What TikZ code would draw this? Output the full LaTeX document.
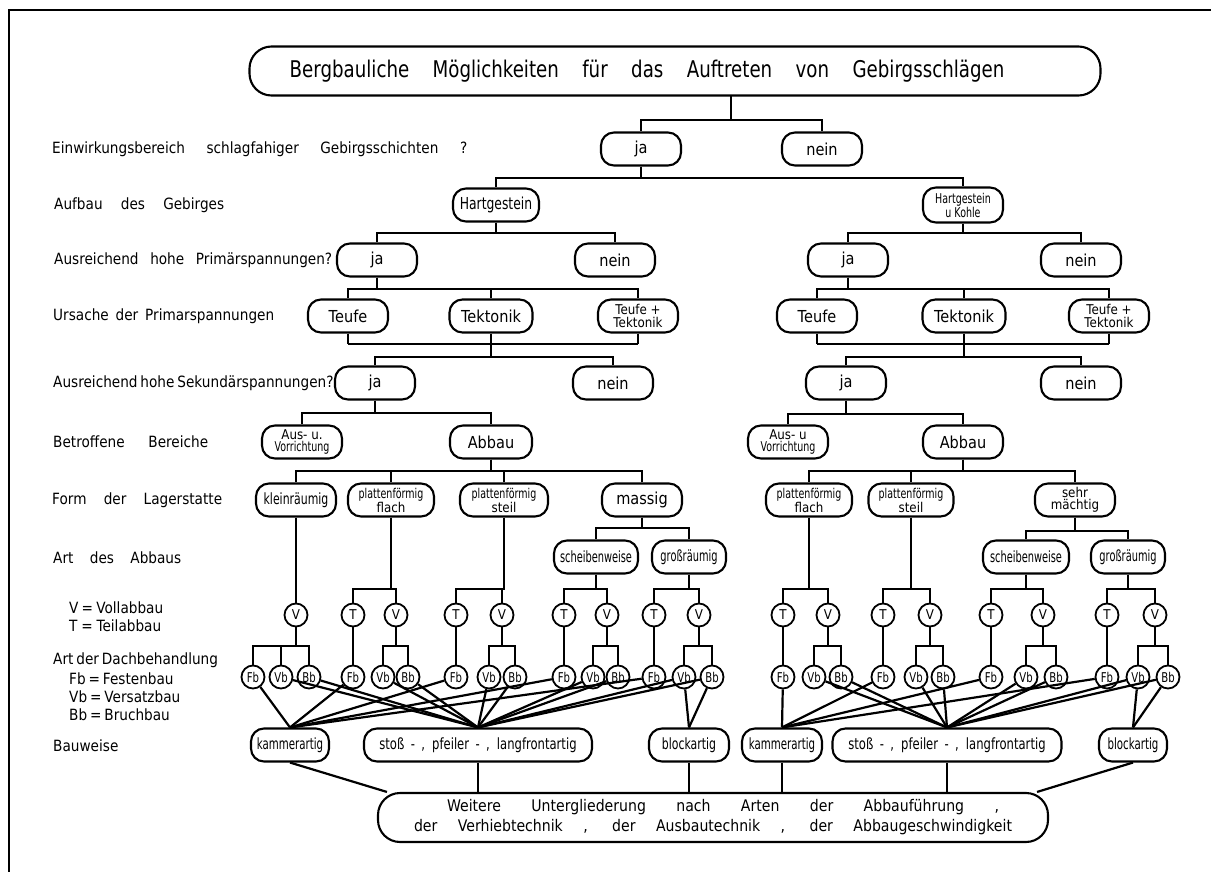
\documentclass[tikz,border=0pt]{standalone}
\usepackage{fontspec}
\setmainfont{DejaVu Sans}[FakeStretch=0.88]
\usepackage{graphicx}
\newcommand\sqz[2][0.8]{\scalebox{#1}[1]{#2}}
\newcommand\fork[3]{\foreach \ch in {#3}{\draw[conn] (#1) -- (#1 |- 0,#2) -| (\ch.north);}}
\tikzset{
 conn/.style={line width=2.2pt},
 bx/.style={draw, line width=2.1pt, rounded corners=13pt, minimum height=33pt, minimum width=80pt, inner sep=1pt, align=center, font=\fontsize{16.5}{16.5}\selectfont},
 smbx/.style={bx, font=\fontsize{13.5}{12.5}\selectfont},
 mdbx/.style={bx, font=\fontsize{15.5}{15.5}\selectfont},
 cir/.style={draw, circle, line width=1.8pt, minimum size=23pt, inner sep=0pt, font=\fontsize{13.5}{13.5}\selectfont},
 lab/.style={anchor=west, inner sep=0pt, font=\fontsize{15.5}{18}\selectfont},
}
\begin{document}
\begin{tikzpicture}[x=1pt,y=-1pt]
\useasboundingbox (0,0) rectangle (1211,872);
% frame
\draw[line width=2.5pt] (9,872) -- (9,10) -- (1211,10);
% title
\node[bx, minimum width=851pt, minimum height=49pt, rounded corners=22pt, font=\fontsize{23}{23}\selectfont] (title) at (675,71)
 {\sqz[0.9]{\makebox[794pt][s]{Bergbauliche Möglichkeiten für das Auftreten von Gebirgsschlägen}}\hspace*{56pt}};
% labels
\node[lab] (l1) at (52,149) {\makebox[415pt][s]{Einwirkungsbereich schlagfahiger Gebirgsschichten ?}};
\node[lab] (l2) at (54,205) {\makebox[170pt][s]{Aufbau des Gebirges}};
\node[lab] (l3) at (54,260) {\makebox[278pt][s]{Ausreichend hohe Primärspannungen?}};
\node[lab] (l4) at (53,316) {\makebox[221pt][s]{Ursache der Primarspannungen}};
\node[lab] (l5) at (53,383) {\makebox[276pt][s]{Ausreichend hohe Sekundärspannungen?}};
\node[lab] (l6) at (53,442) {\makebox[155pt][s]{Betroffene Bereiche}};
\node[lab] (l7) at (52,500) {\makebox[170pt][s]{Form der Lagerstatte}};
\node[lab] (l8) at (53,558) {\makebox[128pt][s]{Art des Abbaus}};
\node[lab] (l9) at (69,608) {\makebox[94pt][s]{V = Vollabbau}};
\node[lab] (l10) at (69,626) {\makebox[92pt][s]{T = Teilabbau}};
\node[lab] (l11) at (53,660) {\makebox[159pt][s]{Art der Dachbehandlung}};
\node[lab] (l12) at (69,679) {\makebox[102pt][s]{Fb = Festenbau}};
\node[lab] (l13) at (69,697) {\makebox[109pt][s]{Vb = Versatzbau}};
\node[lab] (l14) at (69,715) {\makebox[91pt][s]{Bb = Bruchbau}};
\node[lab] (l15) at (53,746) {Bauweise};
% level 1
\node[bx] (ja1) at (641,149) {ja};
\node[bx] (nein1) at (822,149) {nein};
\coordinate (td) at (731,95.5);
\fork{td}{120}{ja1,nein1}
% level 2
\node[bx, minimum width=86pt] (hartL) at (496,205) {\sqz[0.85]{Hartgestein}};
\node[smbx, minimum height=35pt] (hartR) at (963,205) {\sqz{Hartgestein}\\\sqz{u Kohle}};
\fork{ja1.south}{178}{hartL,hartR}
% level 3
\node[bx] (ja3L) at (377,260) {ja};
\node[bx] (nein3L) at (615,260) {nein};
\node[bx] (ja3R) at (848,260) {ja};
\node[bx] (nein3R) at (1081,260) {nein};
\fork{hartL.south}{233}{ja3L,nein3L}
\fork{hartR.south}{233}{ja3R,nein3R}
% level 4
\node[bx] (teufeL) at (348,316) {Teufe};
\node[bx, minimum width=83pt] (tekL) at (491,316) {Tektonik};
\node[smbx] (ttL) at (638,316) {Teufe +\\Tektonik};
\node[bx] (teufeR) at (817,316) {Teufe};
\node[bx, minimum width=83pt] (tekR) at (964,316) {Tektonik};
\node[smbx] (ttR) at (1109,316) {Teufe +\\Tektonik};
\fork{ja3L.south}{289}{teufeL,tekL,ttL}
\fork{ja3R.south}{289}{teufeR,tekR,ttR}
\foreach \n in {teufeL,tekL,ttL,teufeR,tekR,ttR}{\draw[conn] (\n.south) -- (\n.south |- 0,344);}
\draw[conn] (teufeL.south |- 0,344) -- (ttL.south |- 0,344);
\draw[conn] (teufeR.south |- 0,344) -- (ttR.south |- 0,344);
\coordinate (mL) at (tekL.south |- 0,344);
\coordinate (mR) at (tekR.south |- 0,344);
% level 5
\node[bx] (ja5L) at (375,383) {ja};
\node[bx] (nein5L) at (613,383) {nein};
\node[bx] (ja5R) at (846,383) {ja};
\node[bx] (nein5R) at (1081,383) {nein};
\fork{mL}{357}{ja5L,nein5L}
\fork{mR}{357}{ja5R,nein5R}
% level 6
\node[smbx] (ausL) at (302,442) {Aus- u.\\\sqz{Vorrichtung}};
\node[bx, minimum width=82pt] (abbauL) at (491,442) {Abbau};
\node[smbx] (ausR) at (788,442) {Aus- u\\\sqz{Vorrichtung}};
\node[bx] (abbauR) at (963,442) {Abbau};
\fork{ja5L.south}{413}{ausL,abbauL}
\fork{ja5R.south}{414}{ausR,abbauR}
% level 7
\node[mdbx] (klein) at (296,500) {\sqz[0.8]{kleinräumig}};
\node[smbx, minimum width=86pt] (flachL) at (391,500) {\sqz[0.8]{plattenförmig}\\flach};
\node[smbx, minimum width=88pt] (steilL) at (504,500) {\sqz[0.8]{plattenförmig}\\steil};
\node[bx] (massig) at (642,500) {massig};
\node[smbx, minimum width=86pt] (flachR) at (809,500) {\sqz[0.8]{plattenförmig}\\flach};
\node[smbx, minimum width=85pt] (steilR) at (911,500) {\sqz[0.8]{plattenförmig}\\steil};
\node[smbx] (sehr) at (1075,500) {sehr\\mächtig};
\fork{abbauL.south}{471}{klein,flachL,steilL,massig}
\fork{abbauR.south}{471}{flachR,steilR,sehr}
% level 8
\node[mdbx, minimum width=84pt] (scheibL) at (596,557) {\sqz[0.72]{scheibenweise}};
\node[mdbx, minimum width=74pt] (grossL) at (689,557) {\sqz[0.72]{großräumig}};
\node[mdbx, minimum width=86pt] (scheibR) at (1026,557) {\sqz[0.72]{scheibenweise}};
\node[mdbx, minimum width=74pt] (grossR) at (1128,557) {\sqz[0.72]{großräumig}};
\fork{massig.south}{528}{scheibL,grossL}
\fork{sehr.south}{531}{scheibR,grossR}
% level 9 : V / T
\node[cir] (V1) at (296,615) {V};
\node[cir] (T2) at (353,615) {T}; \node[cir] (V2) at (396,615) {V};
\node[cir] (T3) at (456,615) {T}; \node[cir] (V3) at (502,615) {V};
\node[cir] (T4) at (564,615) {T}; \node[cir] (V4) at (607,615) {V};
\node[cir] (T5) at (654,615) {T}; \node[cir] (V5) at (699,615) {V};
\node[cir] (T6) at (783,615) {T}; \node[cir] (V6) at (828,615) {V};
\node[cir] (T7) at (883,615) {T}; \node[cir] (V7) at (930,615) {V};
\node[cir] (T8) at (991,615) {T}; \node[cir] (V8) at (1043,615) {V};
\node[cir] (T9) at (1107,615) {T}; \node[cir] (V9) at (1155,615) {V};
\fork{klein.south}{589}{V1}
\fork{flachL.south}{589}{T2,V2}
\fork{steilL.south}{589}{T3,V3}
\fork{scheibL.south}{589}{T4,V4}
\fork{grossL.south}{589}{T5,V5}
\fork{flachR.south}{589}{T6,V6}
\fork{steilR.south}{589}{T7,V7}
\fork{scheibR.south}{589}{T8,V8}
\fork{grossR.south}{589}{T9,V9}
% level 10 : Fb / Vb / Bb
\foreach \g/\f/\v/\b in {1/253/281/309, 2/353/383/408, 3/456/489/515, 4/564/593/618, 5/654/684/712, 6/783/814/841, 7/883/916/943, 8/991/1026/1056, 9/1107/1138/1168}{
 \node[cir] (Fb\g) at (\f,677) {\sqz[0.85]{Fb}};
 \node[cir] (Vb\g) at (\v,677) {\sqz[0.85]{Vb}};
 \node[cir] (Bb\g) at (\b,677) {\sqz[0.85]{Bb}};
}
\fork{V1.south}{646}{Fb1,Vb1,Bb1}
\foreach \g in {2,...,9}{
 \draw[conn] (T\g.south) -- (Fb\g.north);
 \fork{V\g.south}{646}{Vb\g,Bb\g}
}
% level 11 : Bauweise
\node[mdbx, minimum width=78pt] (kamL) at (290,745) {\sqz[0.75]{kammerartig}};
\node[mdbx, minimum width=228pt] (stossL) at (478,745) {\sqz[0.85]{\makebox[232pt][s]{stoß - , pfeiler - , langfrontartig}}};
\node[mdbx, minimum width=80pt] (blockL) at (689,745) {\sqz[0.8]{blockartig}};
\node[mdbx, minimum width=80pt] (kamR) at (782,745) {\sqz[0.75]{kammerartig}};
\node[mdbx, minimum width=229pt] (stossR) at (947,745) {\sqz[0.85]{\makebox[232pt][s]{stoß - , pfeiler - , langfrontartig}}};
\node[mdbx, minimum width=68pt] (blockR) at (1133,745) {\sqz[0.75]{blockartig}};
\foreach \g in {1,...,5}{\draw[conn] (Fb\g) -- (kamL.north); \draw[conn] (Vb\g) -- (stossL.north); \draw[conn] (Bb\g) -- (stossL.north);}
\foreach \g in {6,...,9}{\draw[conn] (Fb\g) -- (kamR.north); \draw[conn] (Vb\g) -- (stossR.north); \draw[conn] (Bb\g) -- (stossR.north);}
\draw[conn] (Vb5) -- (blockL.north); \draw[conn] (Bb5) -- (blockL.north);
\draw[conn] (Vb9) -- (blockR.north); \draw[conn] (Bb9) -- (blockR.north);
% bottom box
\node[bx, minimum width=670pt, minimum height=49pt, rounded corners=22pt, font=\fontsize{16}{20}\selectfont] (bot) at (713,817.5)
 {\hspace*{20pt}\makebox[552pt][s]{Weitere Untergliederung nach Arten der Abbauführung ,}\\
  \makebox[598pt][s]{der Verhiebtechnik , der Ausbautechnik , der Abbaugeschwindigkeit}};
\draw[conn] (kamL.south) -- ([xshift=10pt]bot.north west);
\draw[conn] (stossL.south) -- (stossL.south |- bot.north);
\draw[conn] (blockL.south) -- (blockL.south |- bot.north);
\draw[conn] (kamR.south) -- (kamR.south |- bot.north);
\draw[conn] (stossR.south) -- (stossR.south |- bot.north);
\draw[conn] (blockR.south) -- ([xshift=-12pt]bot.north east);
\end{tikzpicture}
\end{document}
